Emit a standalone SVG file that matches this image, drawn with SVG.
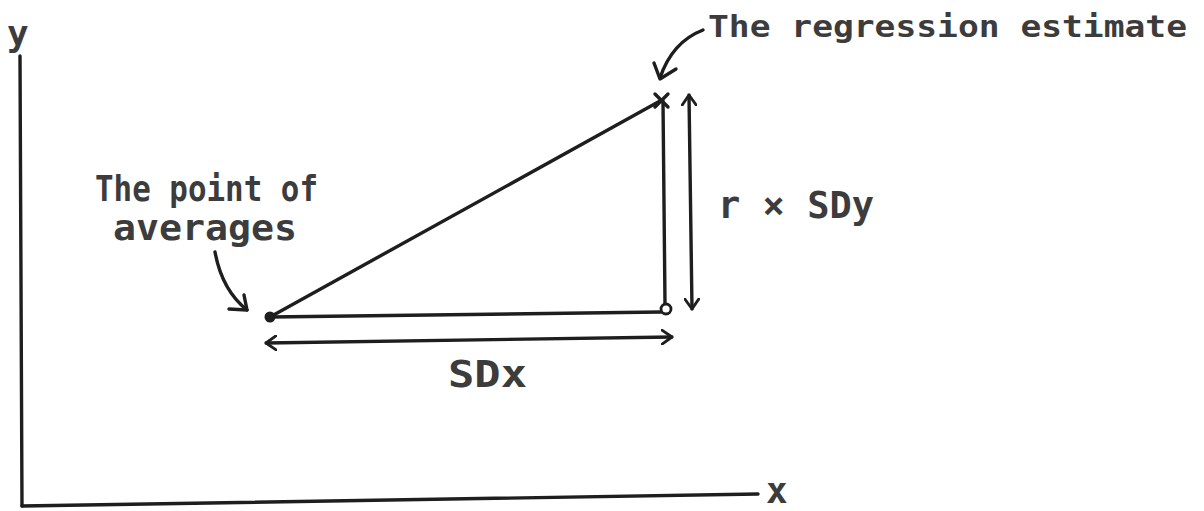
<svg xmlns="http://www.w3.org/2000/svg" width="1204" height="511" viewBox="0 0 1204 511">
<defs>
<style>
.ln{fill:none;stroke:#1e1e1e;stroke-width:3.4;stroke-linecap:round;stroke-linejoin:round}
.lt{font-family:"DejaVu Sans Mono","Liberation Mono",monospace;font-weight:bold;fill:#3c3c3c}
</style>
<marker id="chev" viewBox="0 0 12 16" refX="11" refY="8" markerWidth="12" markerHeight="16" markerUnits="userSpaceOnUse" orient="auto-start-reverse">
<path d="M1,1 L11,8 L1,15" fill="none" stroke="#1e1e1e" stroke-width="2.8" stroke-linecap="round" stroke-linejoin="round"/>
</marker>
</defs>
<rect width="1204" height="511" fill="#ffffff"/>
<g id="axes">
<path class="ln" d="M20,56 L22,506"/>
<path class="ln" d="M22,506 L758,494"/>
<text class="lt" x="7" y="46" font-size="36">y</text>
<text class="lt" x="766" y="503" font-size="36">x</text>
</g>
<g id="connectors">
<path class="ln" d="M270,317 L660,101"/>
<path class="ln" d="M270,317 L661,312"/>
<path class="ln" d="M663,101 L665,304"/>
<path class="ln" d="M689,95 L692,309" marker-start="url(#chev)" marker-end="url(#chev)"/>
<path class="ln" d="M266,343 L672,337" marker-start="url(#chev)" marker-end="url(#chev)"/>
<path class="ln" d="M703,30 Q672,42 660,78"/>
<path class="ln" d="M654,63 L660,79 L676,69"/>
<path class="ln" d="M215,252 Q222,290 247,310"/>
<path class="ln" d="M229,309 L247,310 L244,295"/>
</g>
<g id="point-of-averages">
<circle cx="270" cy="317" r="5.5" fill="#1e1e1e"/>
<text class="lt" x="95" y="201" font-size="35" textLength="223" lengthAdjust="spacingAndGlyphs">The point of</text>
<text class="lt" x="113" y="240" font-size="35" textLength="184" lengthAdjust="spacingAndGlyphs">averages</text>
</g>
<g id="regression-estimate">
<path class="ln" d="M655,94 L668,107 M668,94 L655,107"/>
<text class="lt" x="708" y="37" font-size="30" textLength="479" lengthAdjust="spacingAndGlyphs">The regression estimate</text>
</g>
<g id="corner">
<circle cx="666" cy="309" r="5" fill="#ffffff" stroke="#1e1e1e" stroke-width="2.8"/>
</g>
<g id="sdy-label">
<text class="lt" x="718" y="218" font-size="37" textLength="156" lengthAdjust="spacingAndGlyphs">r × SDy</text>
</g>
<g id="sdx-label">
<text class="lt" x="448" y="387" font-size="37" textLength="79" lengthAdjust="spacingAndGlyphs">SDx</text>
</g>
</svg>
